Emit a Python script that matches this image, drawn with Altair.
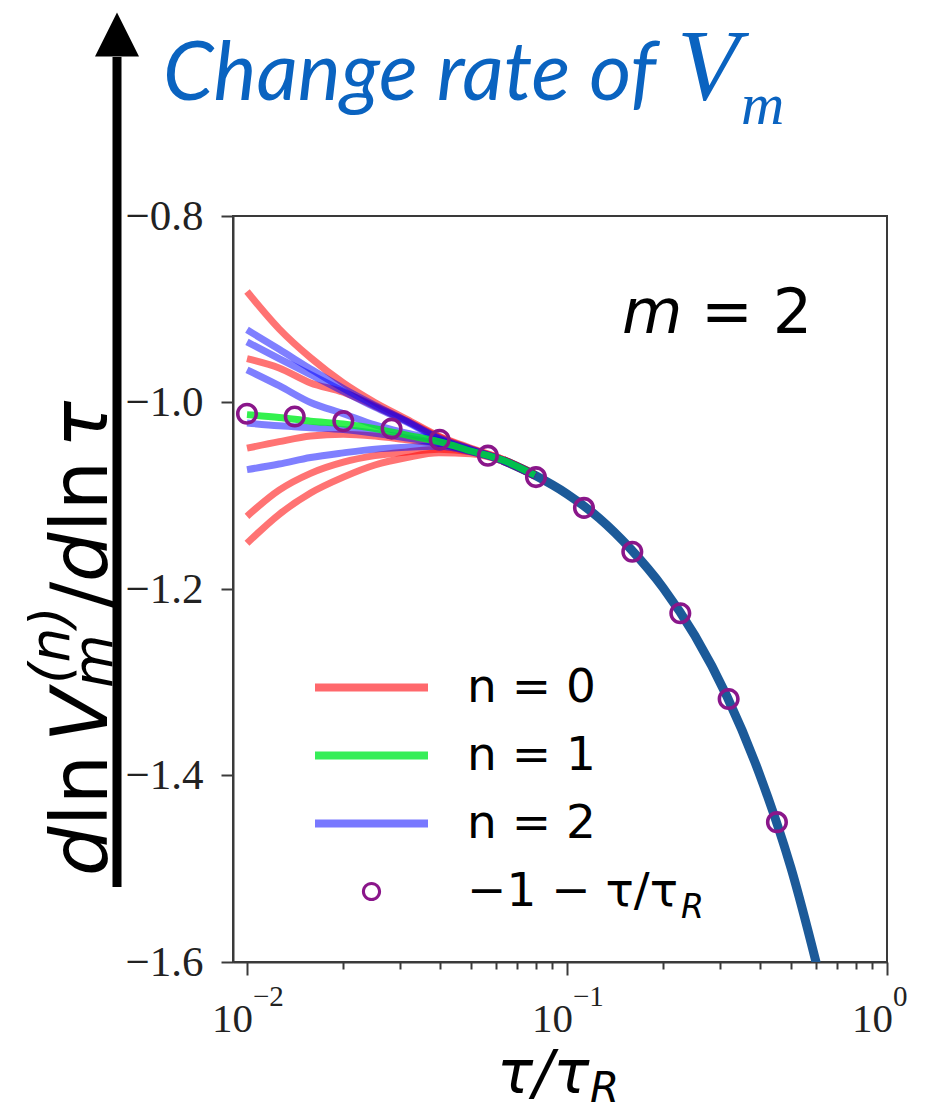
import altair as alt
import pandas as pd

# ---------------- data ----------------
TAU = [0.01, 0.0126, 0.0158, 0.02, 0.0251, 0.0316, 0.0398, 0.0501, 0.0631, 0.0794]

N0_CURVES = [
    [-0.881, -0.921, -0.952, -0.979, -1.000, -1.018, -1.036, -1.049, -1.061, -1.077],
    [-0.953, -0.963, -0.979, -0.989, -1.004, -1.020, -1.037, -1.050, -1.061, -1.077],
    [-1.049, -1.042, -1.036, -1.034, -1.036, -1.040, -1.044, -1.052, -1.062, -1.078],
    [-1.122, -1.094, -1.076, -1.064, -1.057, -1.053, -1.050, -1.053, -1.063, -1.079],
    [-1.151, -1.120, -1.097, -1.080, -1.067, -1.059, -1.054, -1.055, -1.063, -1.079],
]
N1_CURVES = [
    [-1.013, -1.016, -1.020, -1.023, -1.028, -1.035, -1.042, -1.052, -1.062, -1.078],
]
N2_CURVES = [
    [-0.922, -0.943, -0.964, -0.985, -1.003, -1.020, -1.038, -1.050, -1.062, -1.078],
    [-0.935, -0.953, -0.970, -0.988, -1.005, -1.021, -1.039, -1.051, -1.062, -1.078],
    [-0.965, -0.982, -1.000, -1.012, -1.024, -1.033, -1.041, -1.052, -1.062, -1.078],
    [-1.022, -1.025, -1.027, -1.029, -1.033, -1.038, -1.044, -1.052, -1.062, -1.078],
    [-1.072, -1.066, -1.059, -1.054, -1.050, -1.048, -1.047, -1.053, -1.063, -1.079],
]

TRUNK_TAU = [0.0631, 0.0794, 0.1, 0.126, 0.158, 0.2, 0.251, 0.316, 0.398, 0.501, 0.631]
TRUNK_VAL = [-1.062, -1.078, -1.098, -1.124, -1.157, -1.199, -1.250, -1.315, -1.397, -1.499, -1.630]

CIRCLE_TAU = [0.01, 0.0141, 0.02, 0.0283, 0.04, 0.0566, 0.08, 0.113, 0.16, 0.226, 0.32, 0.453]
CIRCLE_VAL = [-1.012, -1.015, -1.020, -1.028, -1.040, -1.057, -1.080, -1.113, -1.160, -1.226, -1.318, -1.450]

SERIES = ["n = 0", "n = 1", "n = 2", "\u22121 \u2212 \u03c4/\u03c4"]
LEGEND_COLORS = ["#ff686c", "#36ee58", "#7878ff", "#8a168a"]

X_MAJOR = [0.01, 0.1, 1]
X_EXP = ["\u22122", "\u22121", "0"]
X_MINOR = [0.02, 0.03, 0.04, 0.05, 0.06, 0.07, 0.08, 0.09,
           0.2, 0.3, 0.4, 0.5, 0.6, 0.7, 0.8, 0.9]
Y_TICKS = [-0.8, -1.0, -1.2, -1.4, -1.6]
X_DOMAIN = [0.009042, 1]
Y_DOMAIN = [-1.6, -0.8]

# ---------------- styles ----------------
FRAME = "#3a3a3a"
TRUNK_COLOR = "#1c5a99"
TITLE_BLUE = "#0a63c0"
LINE_PATH = "M-1,-0.07L1,-0.07L1,0.07L-1,0.07Z"
RING_PATH = ("M0.17,0A0.17,0.17,0,1,1,-0.17,0A0.17,0.17,0,1,1,0.17,0Z"
             "M0.115,0A0.115,0.115,0,1,0,-0.115,0A0.115,0.115,0,1,0,0.115,0Z")
SHAPES = [LINE_PATH, LINE_PATH, LINE_PATH, RING_PATH]


def curve_frame(curves, name):
    rows = []
    for i, vals in enumerate(curves):
        for t, v in zip(TAU, vals):
            rows.append({"tau": t, "val": v, "curve": f"{name}-{i}"})
    return pd.DataFrame(rows)


df0 = curve_frame(N0_CURVES, "n0")
df1 = curve_frame(N1_CURVES, "n1")
df2 = curve_frame(N2_CURVES, "n2")
trunk_df = pd.DataFrame({"tau": TRUNK_TAU, "val": TRUNK_VAL})
circ_df = pd.DataFrame({"tau": CIRCLE_TAU, "val": CIRCLE_VAL, "series": SERIES[3]})
xlab_df = pd.DataFrame({"tau": X_MAJOR, "exp": X_EXP})
one = pd.DataFrame({"k": [0]})

major_test = " || ".join(f"datum.value == {v}" for v in X_MAJOR)

X_SCALE = alt.Scale(type="log", domain=X_DOMAIN, nice=False)
Y_SCALE = alt.Scale(domain=Y_DOMAIN, nice=False, zero=False)
X_AXIS = alt.Axis(values=X_MAJOR + X_MINOR, labels=False, title=None, grid=False,
                  domainColor=FRAME, domainWidth=2, tickColor=FRAME, tickWidth=2,
                  tickSize={"condition": {"test": major_test, "value": 13}, "value": 7})
Y_AXIS = alt.Axis(values=Y_TICKS, format=".1f", title=None, grid=False,
                  labelFont="Liberation Serif", labelFontSize=43, labelColor="#222222",
                  labelPadding=18, tickSize=12, tickWidth=2, tickColor=FRAME,
                  domainColor=FRAME, domainWidth=2)
X_ENC = alt.X("tau:Q", scale=X_SCALE, axis=X_AXIS)
Y_ENC = alt.Y("val:Q", scale=Y_SCALE, axis=Y_AXIS)

trunk = alt.Chart(trunk_df).mark_line(
    color=TRUNK_COLOR, strokeWidth=9, clip=True, interpolate="monotone"
).encode(x=X_ENC, y=Y_ENC)


def fan(df, color, opacity):
    return alt.Chart(df).mark_line(
        color=color, opacity=opacity, strokeWidth=7, interpolate="monotone"
    ).encode(x=X_ENC, y=Y_ENC, detail="curve:N")


red = fan(df0, "#ff0000", 0.55)
blue = fan(df2, "#0000ff", 0.5)
green = fan(df1, "#00ee22", 0.8)

LEG = alt.Legend(title=None, orient="none", legendX=82, legendY=448, padding=0,
                 symbolSize=12769, symbolStrokeWidth=0, symbolOpacity=1,
                 labelFont="DejaVu Sans", labelFontSize=47, labelColor="black",
                 labelOffset=39, rowPadding=20, clipHeight=47, labelLimit=600)

circles = alt.Chart(circ_df).mark_point(
    filled=True, opacity=1, size=16900, strokeWidth=0
).encode(
    x=X_ENC, y=Y_ENC,
    color=alt.Color("series:N", scale=alt.Scale(domain=SERIES, range=LEGEND_COLORS), legend=LEG),
    shape=alt.Shape("series:N", scale=alt.Scale(domain=SERIES, range=SHAPES), legend=LEG),
)

xlab_base = alt.Chart(xlab_df).mark_text(
    text="10", align="right", baseline="alphabetic", dx=6,
    font="Liberation Serif", fontSize=41, color="#222222"
).encode(x=X_ENC, y=alt.value(816))
xlab_sup = alt.Chart(xlab_df).mark_text(
    align="left", baseline="alphabetic", dx=6,
    font="Liberation Serif", fontSize=29, color="#222222"
).encode(x=X_ENC, y=alt.value(790), text="exp:N")


def txt(s, x, y, size, font="DejaVu Sans", style="normal", color="black", angle=0):
    return alt.Chart(one).mark_text(
        text=s, align="left", baseline="alphabetic", font=font, fontSize=size,
        fontStyle=style, color=color, angle=angle
    ).encode(x=alt.value(x), y=alt.value(y))


annotations = [
    # title
    txt("Change rate of", -70, -116, 81, font="Lato", style="italic", color=TITLE_BLUE),
    txt("V", 444, -116, 102, font="Liberation Serif", style="italic", color=TITLE_BLUE),
    txt("m", 508, -92, 60, font="Liberation Serif", style="italic", color=TITLE_BLUE),
    # m = 2
    txt("m", 389, 117, 62, style="italic"),
    txt("= 2", 468, 117, 62),
    # x title
    txt("\u03c4/\u03c4", 264, 877, 60, style="italic"),
    txt("R", 357, 886, 42, style="italic"),
    # legend subscript
    txt("R", 448, 702, 33, style="italic"),
    # y title (rotated)
    txt("d", -126, 660, 78, style="italic", angle=270),
    txt("ln", -126, 610, 78, angle=270),
    txt("V", -126, 526, 78, style="italic", angle=270),
    txt("(n)", -164, 468, 55, style="italic", angle=270),
    txt("m", -121, 472, 55, style="italic", angle=270),
    txt("/", -126, 392, 78, angle=270),
    txt("d", -126, 366, 78, style="italic", angle=270),
    txt("ln", -126, 316, 78, angle=270),
    txt("\u03c4", -126, 232, 78, style="italic", angle=270),
]

shaft = alt.Chart(one).mark_rule(color="black", strokeWidth=9).encode(
    x=alt.value(-116), y=alt.value(-159), y2=alt.value(671)
)
head = alt.Chart(one).mark_point(
    shape="M0,-1L1,1L-1,1Z", size=1936, filled=True, color="black", opacity=1, strokeWidth=0
).encode(x=alt.value(-116), y=alt.value(-181.5))

chart = alt.layer(
    trunk, red, blue, green, circles, xlab_base, xlab_sup, shaft, head, *annotations
).properties(
    width=654, height=746,
    autosize=alt.AutoSizeParams(type="none"),
    padding={"left": 233, "top": 216, "right": 54, "bottom": 153},
).configure_view(
    stroke=FRAME, strokeWidth=2
)

chart.save("out.html", embed_options={"renderer": "svg", "actions": False})
